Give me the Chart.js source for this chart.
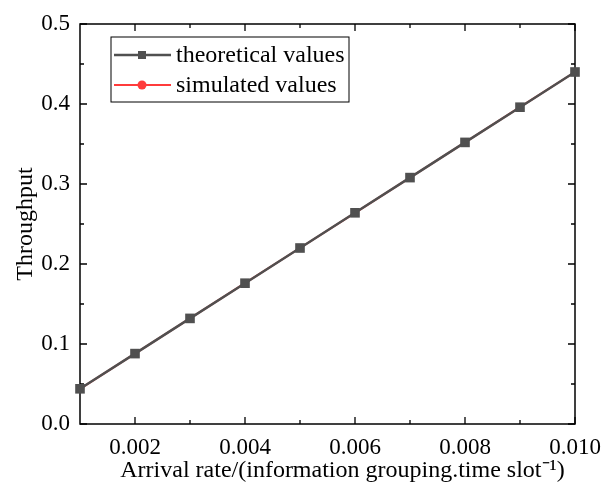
<!DOCTYPE html>
<html>
<head>
<meta charset="utf-8">
<script src="https://cdn.jsdelivr.net/npm/chart.js@4.4.0/dist/chart.umd.min.js"></script>
<style>
  html, body { margin: 0; padding: 0; background: #fff; }
  #wrap { width: 605px; height: 486px; }
</style>
</head>
<body>
<div id="wrap"><canvas id="chart" width="605" height="486"></canvas></div>
<script>
// values
const arrivalRates = [0.001, 0.002, 0.003, 0.004, 0.005, 0.006, 0.007, 0.008, 0.009, 0.010];
const theoreticalValues = [0.044, 0.088, 0.132, 0.176, 0.220, 0.264, 0.308, 0.352, 0.396, 0.440];
// red series sits right underneath the grey one
const simulatedValues = [0.044, 0.088, 0.132, 0.176, 0.220, 0.264, 0.308, 0.352, 0.396, 0.440];
const xTickLabels = ["0.002", "0.004", "0.006", "0.008", "0.010"];
const yTickLabels = ["0.0", "0.1", "0.2", "0.3", "0.4", "0.5"];

const FONT = "'Liberation Serif', 'Times New Roman', serif";

function toPoints(xs, ys) {
  return xs.map((x, i) => ({ x: x, y: ys[i] }));
}

// frame + inward ticks on all four sides
const framePlugin = {
  id: "frame",
  beforeDatasetsDraw(chart) {
    const ctx = chart.ctx;
    const a = chart.chartArea;
    const xs = chart.scales.x;
    const ys = chart.scales.y;
    ctx.save();
    ctx.strokeStyle = "#000";
    ctx.lineWidth = 1.5;
    ctx.strokeRect(a.left, a.top, a.right - a.left, a.bottom - a.top);

    ctx.lineWidth = 1.3;
    const xMajor = xTickLabels.map(parseFloat);
    const xMinor = xMajor.map((v) => v - 0.001).filter((v) => v > 0.0015);
    const yMajor = yTickLabels.map(parseFloat);
    const yMinor = yMajor.slice(0, -1).map((v) => v + 0.05);

    function xTick(v, len) {
      const px = xs.getPixelForValue(v);
      ctx.beginPath();
      ctx.moveTo(px, a.bottom);
      ctx.lineTo(px, a.bottom - len);
      ctx.moveTo(px, a.top);
      ctx.lineTo(px, a.top + len);
      ctx.stroke();
    }
    function yTick(v, len) {
      const py = ys.getPixelForValue(v);
      ctx.beginPath();
      ctx.moveTo(a.left, py);
      ctx.lineTo(a.left + len, py);
      ctx.moveTo(a.right, py);
      ctx.lineTo(a.right - len, py);
      ctx.stroke();
    }
    xMajor.forEach((v) => xTick(v, 7));
    xMinor.forEach((v) => xTick(v, 4));
    yMajor.forEach((v) => yTick(v, 7));
    yMinor.forEach((v) => yTick(v, 4));
    ctx.restore();
  }
};

// boxed legend inside the plot, top left
const boxLegendPlugin = {
  id: "boxLegend",
  afterDraw(chart) {
    const ctx = chart.ctx;
    const a = chart.chartArea;
    const left = a.left + 31;
    const top = a.top + 13;
    const w = 238;
    const h = 65;
    ctx.save();
    ctx.fillStyle = "#fff";
    ctx.fillRect(left, top, w, h);
    ctx.strokeStyle = "#000";
    ctx.lineWidth = 1;
    ctx.strokeRect(left, top, w, h);

    ctx.font = "24px " + FONT;
    ctx.textBaseline = "middle";
    chart.data.datasets.slice().reverse().forEach((ds, i) => {
      const y = top + 18 + i * 30;
      ctx.strokeStyle = ds.borderColor;
      ctx.lineWidth = ds.borderWidth;
      ctx.beginPath();
      ctx.moveTo(left + 3, y);
      ctx.lineTo(left + 60, y);
      ctx.stroke();
      ctx.fillStyle = ds.pointBackgroundColor;
      if (ds.pointStyle === "rect") {
        ctx.fillRect(left + 31 - 4, y - 4, 8, 8);
      } else {
        ctx.beginPath();
        ctx.arc(left + 31, y, 4.5, 0, Math.PI * 2);
        ctx.fill();
      }
      ctx.fillStyle = "#000";
      ctx.fillText(ds.label, left + 65, y + 1);
    });
    ctx.restore();
  }
};

new Chart(document.getElementById("chart"), {
  type: "line",
  data: {
    datasets: [
      {
        label: "simulated values",
        data: toPoints(arrivalRates, simulatedValues),
        borderColor: "#ff3b3b",
        backgroundColor: "#ff3b3b",
        pointBackgroundColor: "#ff3b3b",
        pointBorderWidth: 0,
        pointStyle: "circle",
        pointRadius: 3.5,
        borderWidth: 2,
        clip: false,
        order: 2
      },
      {
        label: "theoretical values",
        data: toPoints(arrivalRates, theoreticalValues),
        borderColor: "#505050",
        backgroundColor: "#505050",
        pointBackgroundColor: "#505050",
        pointBorderWidth: 0,
        pointStyle: "rect",
        pointRadius: 6.8,
        borderWidth: 2.5,
        clip: false,
        order: 1
      }
    ]
  },
  options: {
    responsive: false,
    animation: false,
    layout: { padding: { left: 9, right: 30, top: 24, bottom: 0 } },
    plugins: {
      legend: { display: false },
      tooltip: { enabled: false }
    },
    scales: {
      x: {
        type: "linear",
        min: 0.001,
        max: 0.010,
        afterBuildTicks: (s) => { s.ticks = xTickLabels.map((t) => ({ value: parseFloat(t) })); },
        afterFit: (s) => {
          s.height = 62;
          // let the last label hang past the plot edge
          s.paddingLeft = 0;
          s.paddingRight = 0;
        },
        grid: { display: false, drawTicks: false },
        border: { display: false },
        ticks: {
          color: "#000",
          padding: 10,
          maxRotation: 0,
          font: { family: FONT, size: 23 },
          callback: (v) => v.toFixed(3)
        },
        title: {
          display: true,
          text: "\u2003 Arrival rate/(information grouping.time slot\u207B\u00B9)",
          color: "#000",
          font: { family: FONT, size: 24 },
          padding: { top: 0, bottom: 1 }
        }
      },
      y: {
        type: "linear",
        min: 0,
        max: 0.5,
        afterBuildTicks: (s) => { s.ticks = yTickLabels.map((t) => ({ value: parseFloat(t) })); },
        afterFit: (s) => { s.width = 71; },
        grid: { display: false, drawTicks: false },
        border: { display: false },
        ticks: {
          color: "#000",
          padding: 10,
          font: { family: FONT, size: 23 },
          callback: (v) => v.toFixed(1)
        },
        title: {
          display: true,
          text: "Throughput",
          color: "#000",
          font: { family: FONT, size: 24 },
          padding: { top: 2, bottom: 0 }
        }
      }
    }
  },
  plugins: [framePlugin, boxLegendPlugin]
});
</script>
</body>
</html>
